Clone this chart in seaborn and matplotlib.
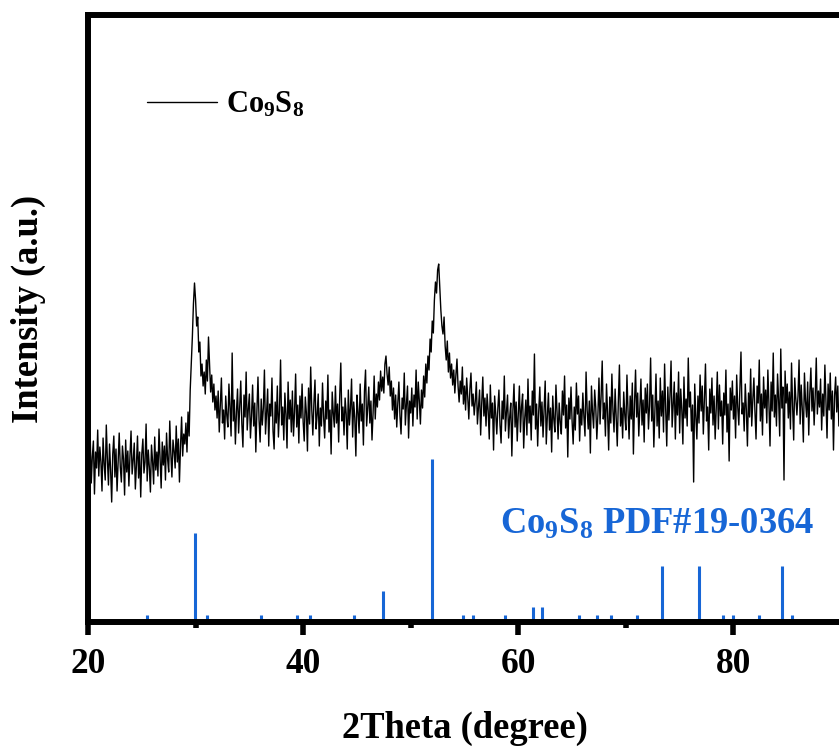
import numpy as np
import pandas as pd
import matplotlib as mpl
import matplotlib.pyplot as plt
import seaborn as sns

# measured XRD pattern, 0.1 degree steps from 20 to 90 (intensity in a.u.)
two_theta = np.round(np.arange(20, 90.001, 0.1), 1)
intensity = [
    172, 150, 188, 139, 165, 181, 128, 170, 154, 192,  # 20
    146, 175, 160, 131, 184, 158, 142, 197, 163, 137,
    178, 152, 120, 168, 186, 145, 173, 131, 160, 189,
    155, 140, 176, 163, 127, 182, 150, 171, 136, 166,
    191, 148, 162, 179, 133, 157, 186, 144, 170, 125,
    168, 183, 149, 160, 198, 141, 172, 155, 130, 177,  # 25
    161, 138, 185, 152, 170, 146, 193, 164, 134, 180,
    157, 176, 142, 189, 163, 150, 201, 168, 145, 182,
    171, 154, 196, 160, 183, 140, 176, 205, 166, 188,
    178, 199, 170, 210, 186, 232, 258, 285, 318, 339,
    322, 296, 305, 270, 280, 246, 258, 236, 250, 228,  # 30
    262, 241, 285, 258, 230, 247, 220, 238, 212, 226,
    204, 231, 190, 218, 244, 199, 212, 183, 226, 207,
    195, 238, 214, 186, 269, 201, 222, 178, 210, 233,
    189, 216, 241, 198, 175, 227, 205, 250, 192, 213,
    228, 184, 206, 237, 196, 219, 170, 211, 245, 202,  # 35
    180, 223, 197, 214, 252, 188, 209, 233, 176, 218,
    206, 244, 191, 173, 220, 199, 236, 185, 212, 262,
    197, 215, 182, 229, 208, 174, 240, 203, 222, 190,
    231, 186, 210, 248, 195, 217, 179, 226, 204, 238,
    200, 181, 225, 209, 171, 234, 198, 255, 213, 187,  # 40
    219, 242, 193, 207, 228, 176, 214, 196, 239, 205,
    184, 221, 203, 247, 190, 212, 168, 230, 209, 195,
    236, 199, 218, 180, 226, 259, 201, 215, 187, 224,
    208, 173, 232, 197, 214, 243, 185, 220, 204, 166,
    227, 210, 189, 238, 201, 218, 177, 231, 252, 196,  # 45
    214, 235, 199, 221, 182, 209, 246, 203, 228, 215,
    240, 222, 251, 231, 245, 229, 258, 266, 248, 237,
    255, 226, 241, 212, 234, 203, 227, 195, 219, 240,
    206, 188, 224, 213, 249, 197, 218, 236, 184, 221,
    209, 234, 196, 227, 215, 252, 203, 240, 221, 198,  # 50
    232, 214, 246, 225, 258, 239, 266, 252, 283, 270,
    301, 289, 322, 340, 329, 352, 358, 336, 312, 296,
    288, 305, 276, 262, 281, 250, 269, 244, 258, 237,
    252, 229, 247, 263, 236, 220, 241, 228, 255, 218,
    236, 212, 244, 225, 203, 233, 249, 216, 228, 207,  # 55
    221, 240, 198, 215, 232, 187, 219, 245, 206, 224,
    196, 228, 211, 183, 237, 204, 219, 172, 226, 209,
    188, 214, 232, 197, 179, 221, 203, 246, 191, 210,
    227, 184, 205, 219, 166, 212, 238, 195, 220, 181,
    209, 236, 190, 215, 228, 174, 204, 222, 187, 243,  # 60
    199, 216, 182, 231, 207, 268, 193, 218, 176, 211,
    235, 196, 220, 185, 213, 241, 178, 206, 229, 192,
    214, 170, 226, 203, 190, 237, 211, 183, 219, 200,
    188, 231, 207, 246, 194, 217, 165, 224, 203, 235,
    201, 178, 215, 192, 239, 208, 226, 181, 213, 197,  # 65
    229, 205, 186, 250, 212, 193, 221, 169, 236, 210,
    194, 232, 215, 183, 207, 244, 198, 226, 261, 203,
    219, 186, 238, 209, 172, 225, 199, 248, 211, 190,
    233, 204, 176, 221, 257, 196, 214, 184, 230, 207,
    192, 247, 211, 183, 226, 203, 239, 168, 218, 252,  # 70
    205, 229, 186, 214, 243, 197, 222, 180, 234, 209,
    238, 193, 216, 264, 201, 227, 175, 213, 248, 196,
    221, 184, 244, 206, 231, 190, 258, 213, 176, 235,
    202, 226, 261, 195, 218, 240, 183, 229, 207, 250,
    189, 233, 212, 178, 245, 204, 223, 196, 264, 215,  # 75
    230, 191, 217, 140, 238, 206, 183, 226, 199, 247,
    211, 236, 188, 222, 258, 201, 215, 172, 233, 209,
    244, 197, 226, 183, 214, 250, 193, 237, 206, 221,
    178, 229, 207, 252, 190, 218, 161, 234, 212, 241,
    203, 226, 184, 247, 215, 197, 232, 270, 208, 219,  # 80
    191, 238, 212, 176, 229, 205, 253, 196, 222, 244,
    210, 183, 236, 219, 262, 201, 228, 187, 245, 214,
    232, 199, 252, 218, 176, 240, 211, 269, 205, 227,
    196, 248, 222, 186, 273, 214, 235, 142, 251, 219,
    238, 204, 230, 193, 259, 216, 182, 244, 223, 207,  # 85
    226, 262, 198, 237, 213, 180, 249, 221, 205, 240,
    187, 229, 254, 211, 234, 197, 226, 264, 208, 231,
    215, 243, 192, 228, 206, 257, 219, 184, 238, 212,
    249, 203, 231, 172, 226, 245, 210, 236, 196, 224,
    214,
]

# standard card PDF#19-0364 sticks
ref_pos = [25.5, 29.9, 31.1, 36.1, 39.4, 40.6, 44.7, 47.4, 52.0, 54.9, 55.8,
           58.8, 61.4, 62.2, 65.6, 67.3, 68.6, 71.0, 73.4, 76.8, 79.0, 79.95,
           82.4, 84.5, 85.4]
ref_height = [7, 89, 7, 7, 7, 7, 7, 31, 163, 7, 7,
              7, 15, 15, 7, 7, 7, 7, 56, 56, 7, 7,
              7, 56, 7]

df = pd.DataFrame({"two_theta": two_theta, "intensity": intensity})

sns.set_theme(style="ticks")
plt.rcParams["font.family"] = ["Liberation Serif", "DejaVu Serif"]
plt.rcParams["font.weight"] = "bold"
plt.rcParams["text.color"] = "black"
plt.rcParams["xtick.color"] = "black"
plt.rcParams["axes.labelcolor"] = "black"
plt.rcParams["mathtext.fontset"] = "custom"
plt.rcParams["mathtext.rm"] = "Liberation Serif:bold"
plt.rcParams["mathtext.bf"] = "Liberation Serif:bold"
plt.rcParams["mathtext.it"] = "Liberation Serif:bold"
plt.rcParams["mathtext.default"] = "bf"

blue = "#1766d6"

fig = plt.figure(figsize=(8.39, 7.47), dpi=100)
ax = fig.add_axes([0.1049, 0.1673, 0.8975, 0.8126])

sns.lineplot(data=df, x="two_theta", y="intensity", color="black", lw=1.0,
             label="Co$_9$S$_8$", ax=ax)
ax.vlines(ref_pos, 0, ref_height, color=blue, lw=2.2)

ax.text(58.3, 88, "Co$_9$S$_8$ PDF#19-0364", color=blue, fontsize=26.3,
        fontweight="bold", ha="left", va="baseline")

ax.set_xlim(20, 90)
ax.set_ylim(0, 607)
ax.set_xticks([20, 40, 60, 80])
ax.set_xticks([30, 50, 70], minor=True)
ax.set_yticks([])
ax.tick_params(axis="x", which="major", direction="out", length=9, width=4,
               labelsize=25.5, pad=10, color="black", labelcolor="black")
ax.tick_params(axis="x", which="minor", direction="out", length=4, width=4,
               color="black")
for lab in ax.get_xticklabels():
    lab.set_fontweight("bold")
for sp in ax.spines.values():
    sp.set_linewidth(4.3)
    sp.set_color("black")

ax.set_xlabel("2Theta (degree)", fontsize=26.3, fontweight="bold", labelpad=21)
ax.set_ylabel("Intensity (a.u.)", fontsize=26.3, fontweight="bold")
ax.yaxis.set_label_coords(-0.056, 0.516)

leg = ax.legend(loc="center left", bbox_to_anchor=(0.078, 0.852), frameon=False,
                borderpad=0, borderaxespad=0, handlelength=2.3,
                handletextpad=0.3, prop={"size": 22, "weight": "bold"})
for h in leg.get_lines():
    h.set_linewidth(1.0)

fig.savefig("out.png", dpi=100)
